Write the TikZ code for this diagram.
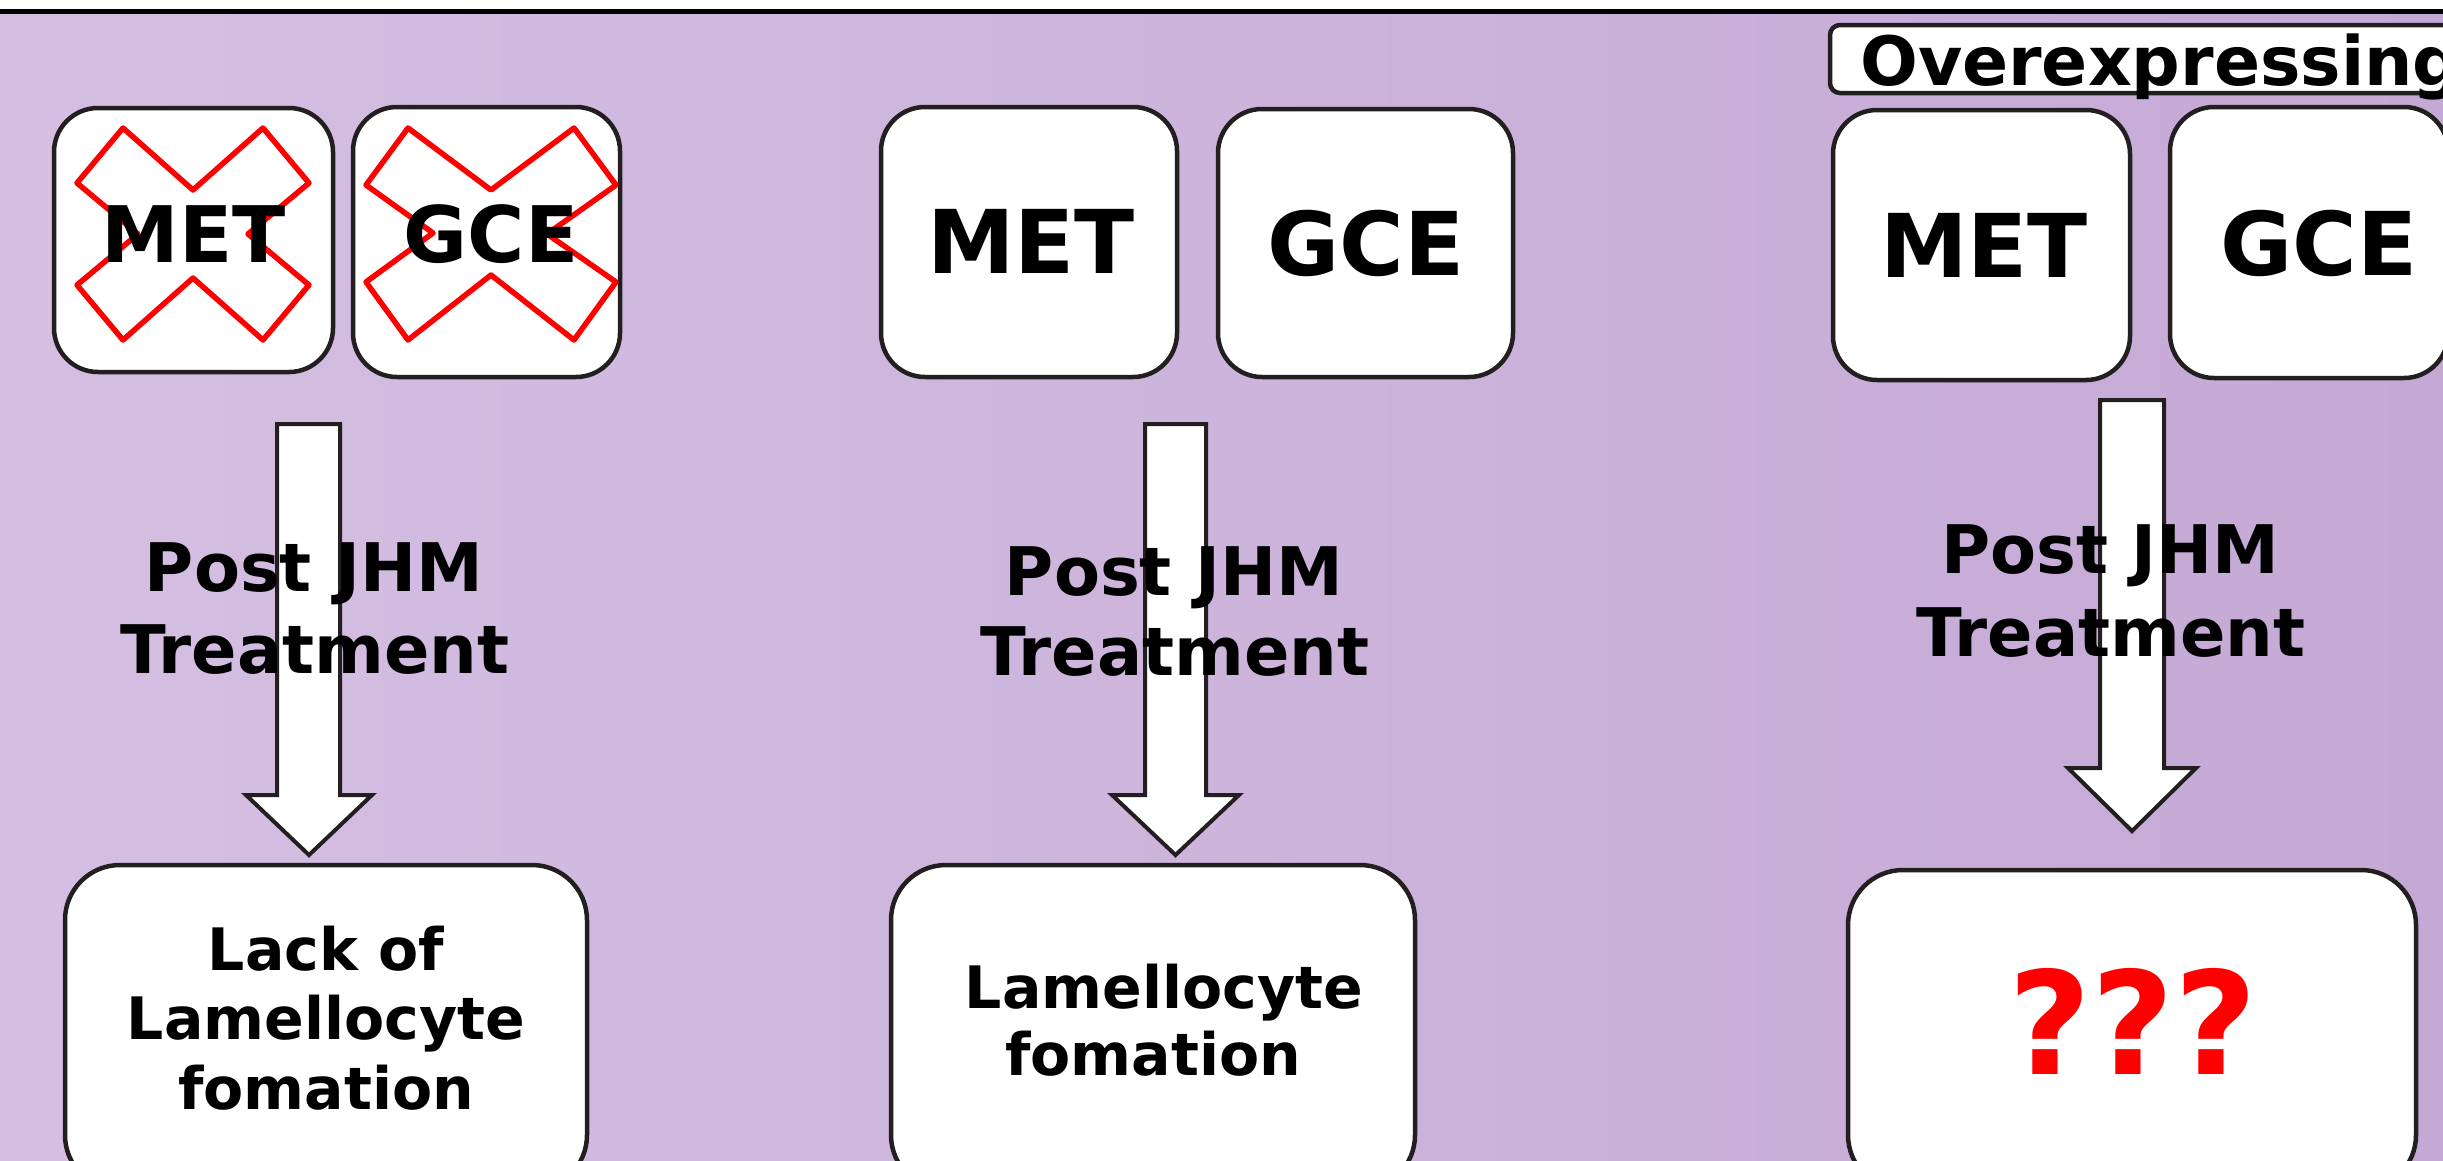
\documentclass[tikz,border=0pt]{standalone}
\usepackage{fontspec}
\setmainfont{DejaVu Sans}
\definecolor{bgL}{RGB}{212,191,226}
\definecolor{bgR}{RGB}{196,169,213}
\definecolor{edge}{RGB}{35,31,32}
\begin{document}
\begin{tikzpicture}[x=1pt,y=-1pt,
  box/.style={draw=edge,fill=white,line width=4.5pt,rounded corners=44pt,inner sep=0pt},
  bigbox/.style={draw=edge,fill=white,line width=4.5pt,rounded corners=55pt,inner sep=0pt},
  cross/.style={draw=red,line width=5.5pt,line join=round},
  blockarrow/.style={draw=edge,fill=white,line width=4pt,line join=miter},
  lab/.style={inner sep=0pt,anchor=base,font=\bfseries},
]
\useasboundingbox (0,0) rectangle (2443,1160);
\clip (0,0) rectangle (2443,1160);
\fill[white] (0,0) rectangle (2443,1160);
\shade[left color=bgL,right color=bgR] (0,11) rectangle (2443,1160);
\draw[line width=5pt] (0,11.5) -- (2443,11.5);

% ---------- left column ----------
\node[box,minimum width=279pt,minimum height=264pt] (met1) at (193.5,240) {};
\node[box,minimum width=267pt,minimum height=270pt] (gce1) at (486.5,242) {};
\draw[cross] (123,128) -- (193,190) -- (263,128) -- (309,183) -- (248,234) -- (309,285)
  -- (263,340) -- (193,278) -- (123,340) -- (77,285) -- (138,234) -- (77,183) -- cycle;
\draw[cross] (408,128) -- (491,190) -- (574,128) -- (616,185) -- (547,234) -- (616,282)
  -- (574,340) -- (491,275) -- (408,340) -- (366,282) -- (433,233) -- (366,185) -- cycle;
\node[lab,font=\bfseries\fontsize{78}{90}\selectfont] (tmet1) at (194,262) {MET};
\node[lab,font=\bfseries\fontsize{78}{90}\selectfont] (tgce1) at (491,262) {GCE};

\draw[blockarrow] (277,424) -- (340,424) -- (340,795) -- (372,795) -- (309,855)
  -- (246,795) -- (277,795) -- cycle;
\node[lab,font=\bfseries\fontsize{67}{80}\selectfont] (p1a) at (314,591) {Post JHM};
\node[lab,font=\bfseries\fontsize{67}{80}\selectfont] (p1b) at (315,673) {Treatment};

\draw[bigbox] (65,865) rectangle (587,1190);
\node[lab,font=\bfseries\fontsize{58.5}{70}\selectfont] (r1a) at (326,970) {Lack of};
\node[lab,font=\bfseries\fontsize{58.5}{70}\selectfont] (r1b) at (326,1039) {Lamellocyte};
\node[lab,font=\bfseries\fontsize{58.5}{70}\selectfont] (r1c) at (326,1109) {fomation};

% ---------- middle column ----------
\node[box,minimum width=296pt,minimum height=270pt] (met2) at (1029,242) {};
\node[box,minimum width=295pt,minimum height=268pt] (gce2) at (1365.5,243) {};
\node[lab,font=\bfseries\fontsize{88}{100}\selectfont] (tmet2) at (1031,273) {MET};
\node[lab,font=\bfseries\fontsize{88}{100}\selectfont] (tgce2) at (1366,275) {GCE};

\draw[blockarrow] (1145,424) -- (1206,424) -- (1206,795) -- (1239,795) -- (1175.5,855)
  -- (1112,795) -- (1145,795) -- cycle;
\node[lab,font=\bfseries\fontsize{67}{80}\selectfont] (p2a) at (1174,595) {Post JHM};
\node[lab,font=\bfseries\fontsize{67}{80}\selectfont] (p2b) at (1175,675) {Treatment};

\draw[bigbox] (891,865) rectangle (1415,1190);
\node[lab,font=\bfseries\fontsize{58.5}{70}\selectfont] (r2a) at (1164,1008) {Lamellocyte};
\node[lab,font=\bfseries\fontsize{58.5}{70}\selectfont] (r2b) at (1153,1075) {fomation};

% ---------- right column ----------
\draw[draw=edge,fill=white,line width=4.5pt,rounded corners=10pt] (1830,25) rectangle (2480,93);
\node[lab,anchor=base west,font=\bfseries\fontsize{68}{80}\selectfont] (over) at (1860,85) {Overexpressing};

\node[box,minimum width=297pt,minimum height=270pt] (met3) at (1981.5,245) {};
\draw[box] (2170,107) rectangle (2448,378);
\node[lab,font=\bfseries\fontsize{88}{100}\selectfont] (tmet3) at (1984,277) {MET};
\node[lab,font=\bfseries\fontsize{88}{100}\selectfont] (tgce3) at (2319,275) {GCE};

\draw[blockarrow] (2100,400) -- (2164,400) -- (2164,768) -- (2196,768) -- (2132,831)
  -- (2068,768) -- (2100,768) -- cycle;
\node[lab,font=\bfseries\fontsize{67}{80}\selectfont] (p3a) at (2110,573) {Post JHM};
\node[lab,font=\bfseries\fontsize{67}{80}\selectfont] (p3b) at (2111,656) {Treatment};

\draw[bigbox] (1848,870) rectangle (2416,1190);
\node[lab,text=red,font=\bfseries\fontsize{143}{150}\selectfont] (q) at (2133,1074) {???};
\end{tikzpicture}
\end{document}
